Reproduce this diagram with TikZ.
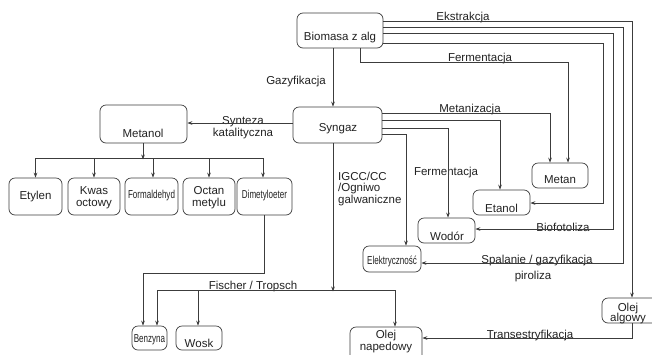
\documentclass[tikz,border=0pt]{standalone}
\usepackage{fontspec}
\usepackage{graphicx}
\setmainfont{Liberation Sans}
\usetikzlibrary{arrows.meta}
\definecolor{linec}{HTML}{3C3C3C}
\definecolor{textc}{HTML}{222222}
\newcommand{\narrowtxt}[1]{\scalebox{0.7}[1]{#1}}
\begin{document}
\begin{tikzpicture}[x=1pt,y=-1pt,
  box/.style={draw=linec, rounded corners=6pt, line width=0.7pt, inner sep=0pt},
  txt/.style={inner sep=0pt, text=textc, font=\fontsize{11.5}{13}\selectfont, align=center},
  arr/.style={draw=linec, line width=0.7pt, -{Stealth[length=5pt,width=3.6pt]}},
  ln/.style={draw=linec, line width=0.7pt}]
\clip (0,0) rectangle (652,354);
\fill[white] (0,0) rectangle (652,354);

% boxes
\node[box, minimum width=86pt, minimum height=35pt] (biomasa) at (340,30.5) {};
\node[box, minimum width=89pt, minimum height=36pt] (syngaz) at (337.5,125) {};
\node[box, minimum width=87pt, minimum height=38pt] (metanol) at (143.5,124) {};
\node[box, minimum width=53pt, minimum height=37pt] (etylen) at (35.5,196.5) {};
\node[box, minimum width=52pt, minimum height=37pt] (kwas) at (94,196.5) {};
\node[box, minimum width=53pt, minimum height=37pt] (formal) at (151.5,196.5) {};
\node[box, minimum width=52pt, minimum height=37pt] (octan) at (209,196.5) {};
\node[box, minimum width=55pt, minimum height=37pt] (dimet) at (264.5,196.5) {};
\node[box, minimum width=56pt, minimum height=25pt] (metan) at (560,175.5) {};
\node[box, minimum width=57pt, minimum height=25pt] (etanol) at (501.5,202.5) {};
\node[box, minimum width=57pt, minimum height=25pt] (wodor) at (446.5,230.5) {};
\node[box, minimum width=58pt, minimum height=26pt] (elektr) at (392,259) {};
\node[box, minimum width=60pt, minimum height=25pt] (olejalg) at (632,310.5) {};
\node[box, minimum width=35pt, minimum height=24pt] (benzyna) at (149.5,338) {};
\node[box, minimum width=46pt, minimum height=24pt] (wosk) at (199,338) {};
\node[box, minimum width=72pt, minimum height=36pt] (olejnap) at (386,345) {};

% box texts
\node[txt] (t-biomasa) at (340,38) {Biomasa z alg};
\node[txt] (t-syngaz) at (338,129) {Syngaz};
\node[txt] (t-metanol) at (143,133) {Metanol};
\node[txt] (t-etylen) at (35.5,197) {Etylen};
\node[txt] (t-kwas) at (94,198) {Kwas\\[-1pt]octowy};
\node[txt] (t-formal) at (151.5,196) {\narrowtxt{Formaldehyd}};
\node[txt] (t-octan) at (209,198) {Octan\\[-1pt]metylu};
\node[txt] (t-dimet) at (264.5,196) {\narrowtxt{Dimetyloeter}};
\node[txt] (t-metan) at (560,180) {Metan};
\node[txt] (t-etanol) at (501.5,208) {Etanol};
\node[txt] (t-wodor) at (447,236) {Wodór};
\node[txt] (t-elektr) at (392,261) {\narrowtxt{Elektryczność}};
\node[txt] (t-olejalg) at (628,313.5) {Olej\\[-3pt]algowy};
\node[txt] (t-benzyna) at (149.5,340) {\narrowtxt{Benzyna}};
\node[txt] (t-wosk) at (199,343) {Wosk};
\node[txt] (t-olejnap) at (386,342) {Olej\\[-1pt]napedowy};

% connector labels
\node[txt] (l-ekstr) at (463,18) {Ekstrakcja};
\node[txt] (l-ferm1) at (480,59) {Fermentacja};
\node[txt] (l-gazyf) at (296,82) {Gazyfikacja};
\node[txt] (l-metaniz) at (470,110) {Metanizacja};
\node[txt] (l-synteza) at (243,128) {Synteza\\[-1pt]katalityczna};
\node[txt] (l-ferm2) at (446,173) {Fermentacja};
\node[txt, align=left, anchor=west] (l-igcc) at (338,189) {IGCC/CC\\[-1.5pt]/Ogniwo\\[-1.5pt]galwaniczne};
\node[txt] (l-biofot) at (563,227) {Biofotoliza};
\node[txt] (l-spal) at (537,261) {Spalanie / gazyfikacja};
\node[txt] (l-piro) at (533,277) {piroliza};
\node[txt] (l-fischer) at (253,287) {Fischer / Tropsch};
\node[txt] (l-trans) at (530,336) {Transestryfikacja};

% coordinates
\coordinate (mb) at (143,158);
\coordinate (ft) at (333,290);
\coordinate (dm) at (264,273);

% from Biomasa
\draw[arr] (biomasa.east |- 0,21) -| (olejalg.north);
\draw[arr] (biomasa.east |- 0,27) -| (623,263) -- (elektr.east |- 0,263);
\draw[arr] (biomasa.east |- 0,33) -| (613,229) -- (wodor.east |- 0,229);
\draw[arr] (biomasa.east |- 0,43) -| (603,203) -- (etanol.east |- 0,203);
\draw[arr] (biomasa.south -| 360,0) |- (568,62) -- (metan.north -| 568,0);
\draw[arr] (biomasa.south -| 333,0) -- (syngaz.north -| 333,0);

% from Syngaz
\draw[arr] (syngaz.east |- 0,113) -| (metan.north -| 550,0);
\draw[arr] (syngaz.east |- 0,120) -| (etanol.north -| 500,0);
\draw[arr] (syngaz.east |- 0,128) -| (wodor.north -| 448,0);
\draw[arr] (syngaz.east |- 0,134) -| (elektr.north -| 406,0);
\draw[arr] (syngaz.west |- 0,123) -- (metanol.east |- 0,123);
\draw[arr] (syngaz.south -| ft) -- ([yshift=-1.5pt]ft);

% Metanol bus
\draw[arr] (metanol.south -| mb) -- ([yshift=-1.5pt]mb);
\draw[ln] (etylen.north |- mb) -- (263,158);
\draw[arr] (etylen.north |- mb) -- (etylen.north);
\draw[arr] (kwas.north |- mb) -- (kwas.north);
\draw[arr] (153,158) -- (formal.north -| 153,0);
\draw[arr] (octan.north |- mb) -- (octan.north);
\draw[arr] (263,158) -- (dimet.north -| 263,0);

% Dimetyloeter to Benzyna
\draw[arr] (dimet.south -| dm) -- (dm) -| (benzyna.north -| 143,0);

% Fischer / Tropsch bus
\draw[ln] (157,290) -- (395,290);
\draw[arr] (157,290) -- (benzyna.north -| 157,0);
\draw[arr] (198,290) -- (wosk.north -| 198,0);
\draw[arr] (395,290) -- (olejnap.north -| 395,0);

% Olej algowy to Olej napedowy
\draw[arr] (olejalg.south) |- (olejnap.east |- 0,338);
\end{tikzpicture}
\end{document}
